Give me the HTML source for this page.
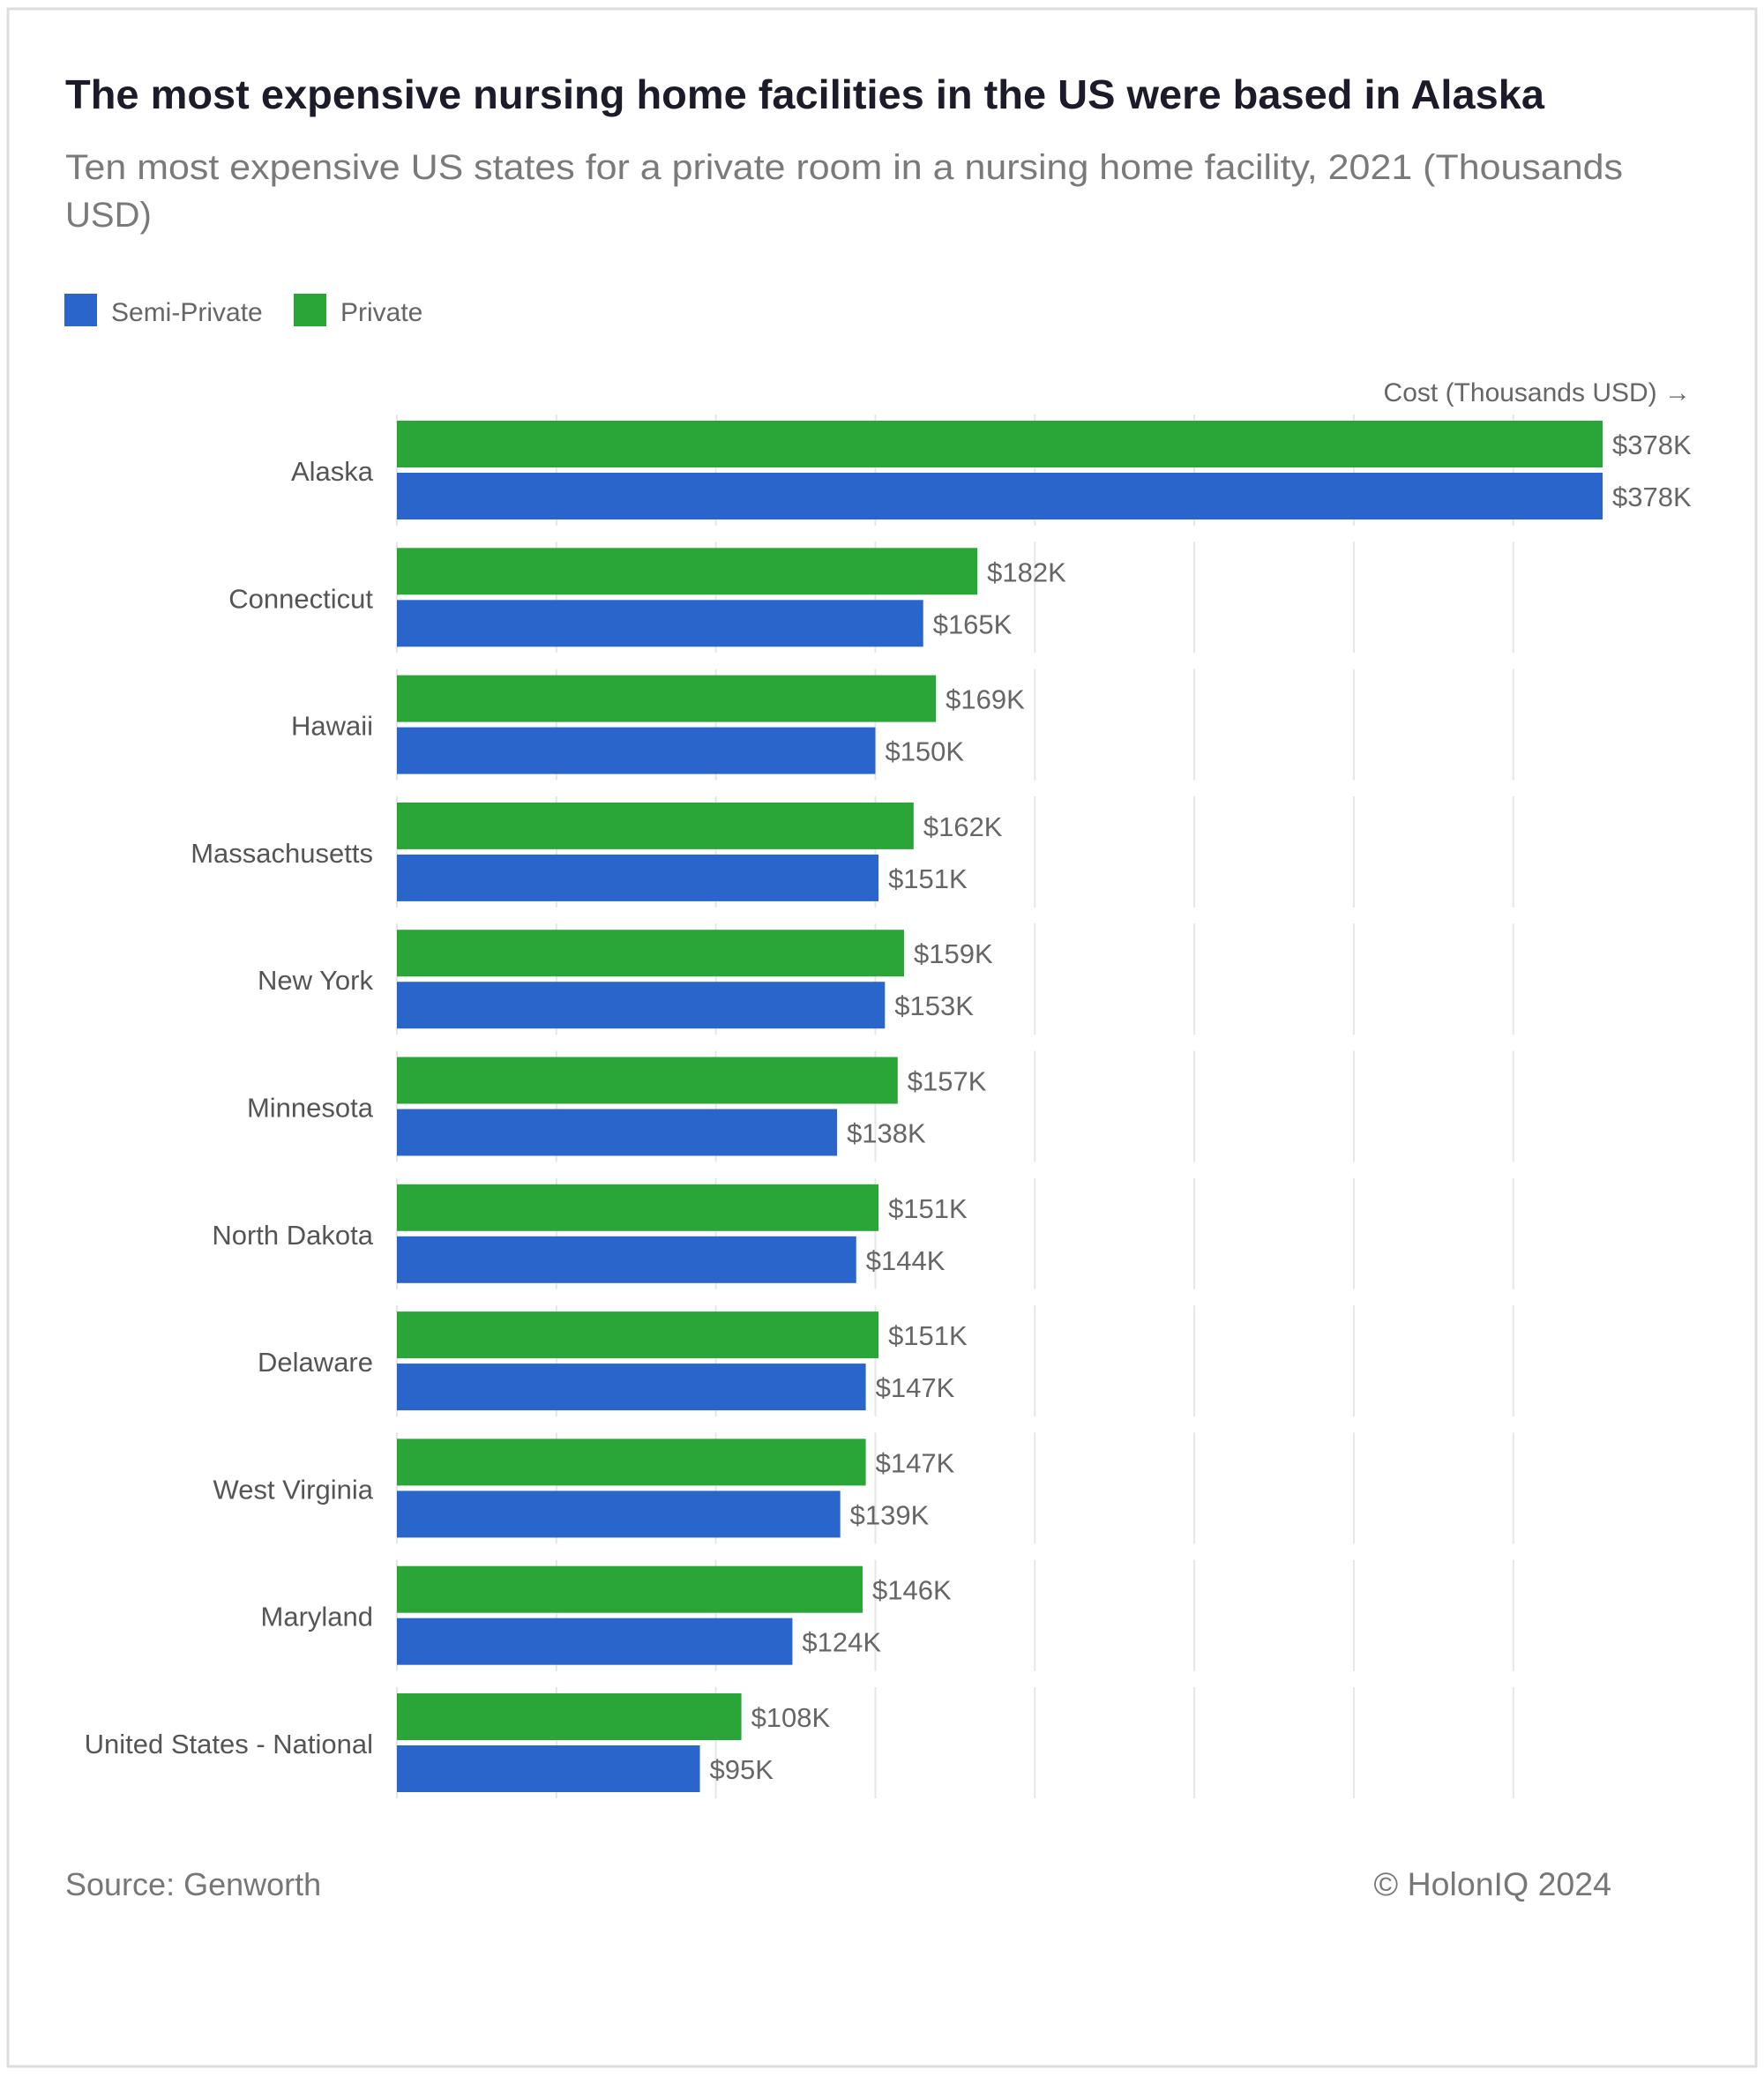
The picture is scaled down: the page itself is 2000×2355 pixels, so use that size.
<!DOCTYPE html>
<html><head><meta charset="utf-8"><style>
html,body{margin:0;padding:0;background:#fff;}
svg{display:block;font-family:"Liberation Sans",sans-serif;}
</style></head><body>
<svg id="chart" width="2000" height="2355" viewBox="0 0 2000 2355">
<rect x="9" y="10" width="1982" height="2333" fill="#fff" stroke="#dddddd" stroke-width="3"/>
<text x="74" y="123" font-size="46" font-weight="bold" fill="#1b1b2a" textLength="1677" lengthAdjust="spacingAndGlyphs">The most expensive nursing home facilities in the US were based in Alaska</text>
<text x="74" y="203" font-size="40" fill="#7a7a7a" textLength="1766" lengthAdjust="spacingAndGlyphs">Ten most expensive US states for a private room in a nursing home facility, 2021 (Thousands</text>
<text x="74" y="257" font-size="40" fill="#7a7a7a">USD)</text>
<g>
<rect x="73" y="333" width="37" height="37" fill="#2a65cc"/>
<text x="126" y="364" font-size="30" fill="#666">Semi-Private</text>
<rect x="333" y="333" width="37" height="37" fill="#2aa538"/>
<text x="386" y="364" font-size="30" fill="#666">Private</text>
</g>
<text x="1917" y="455" font-size="30" fill="#666" text-anchor="end">Cost (Thousands USD) →</text>
<g id="plot"></g>
<text x="74" y="2149" font-size="36" fill="#777">Source: Genworth</text>
<text x="1827" y="2149" font-size="37.5" fill="#777" text-anchor="end">© HolonIQ 2024</text>
</svg>
<script>
const categories = ["Alaska","Connecticut","Hawaii","Massachusetts","New York","Minnesota","North Dakota","Delaware","West Virginia","Maryland","United States - National"];
const privateValues = [378,182,169,162,159,157,151,151,147,146,108];
const semiPrivateValues = [378,165,150,151,153,138,144,147,139,124,95];
const gridTicks = [0,50,100,150,200,250,300,350];

const NS = "http://www.w3.org/2000/svg";
const plot = document.getElementById("plot");
const x0 = 450, pxPerK = 1367/378;
const xScale = v => x0 + v * pxPerK;
const groupTop0 = 470, groupPitch = 144.3;
const yGroup = i => groupTop0 + i * groupPitch;

function mk(tag, attrs){const e=document.createElementNS(NS,tag);for(const k in attrs)e.setAttribute(k,attrs[k]);plot.appendChild(e);return e;}

categories.forEach((c,i)=>{
  const gy = yGroup(i);
  gridTicks.forEach(t=>{
    const l = mk("line",{x1:xScale(t),x2:xScale(t),y1:gy,y2:gy+126,stroke:"#e6e6e6","stroke-width":2});
    
    
  });
});
categories.forEach((c,i)=>{
  const gy = yGroup(i);
  const lab = mk("text",{x:423,y:gy+75,"font-size":31,fill:"#555","text-anchor":"end"});
  lab.textContent = c;
  
  

  const pv = privateValues[i], sv = semiPrivateValues[i];
  const pb = mk("rect",{x:x0,y:gy+7,width:xScale(pv)-x0,height:53,fill:"#2aa538"});
  
  
  const pl = mk("text",{x:xScale(pv)+11,y:gy+45,"font-size":31,fill:"#666"});
  pl.textContent = "$"+pv+"K";
  
  

  const sb = mk("rect",{x:x0,y:gy+66,width:xScale(sv)-x0,height:53,fill:"#2a65cc"});
  
  
  const sl = mk("text",{x:xScale(sv)+11,y:gy+104,"font-size":31,fill:"#666"});
  sl.textContent = "$"+sv+"K";
  
  
});
</script>
</body></html>
